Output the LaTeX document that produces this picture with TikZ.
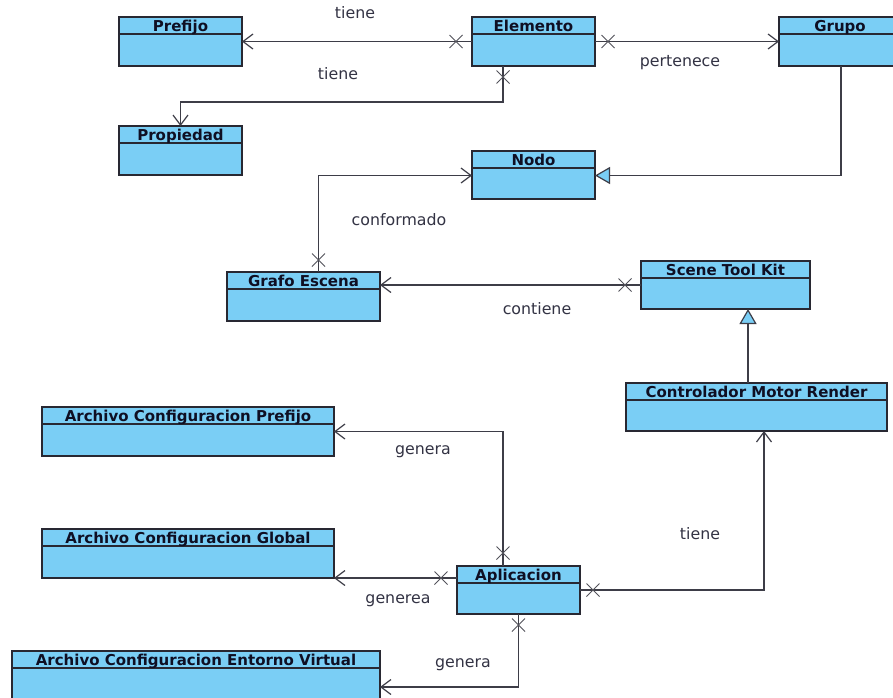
\documentclass[tikz,border=0pt]{standalone}
\usepackage{fontspec}
\setmainfont{DejaVu Sans}
\usetikzlibrary{arrows.meta,shapes.misc,calc}
\definecolor{clsfill}{RGB}{122,206,245}
\definecolor{clsline}{RGB}{40,40,50}
\definecolor{txt}{RGB}{15,15,35}
\newcommand\umlclass[6]{%
  \node[cls, minimum width={(#4-#2)*1pt}, minimum height={(#5-#3)*1pt}] (#1) at ({(#2+#4)/2},{(#3+#5)/2}) {};
  \draw[draw=clsline, line width=1.2pt] ([yshift=-17pt]#1.north west) -- ([yshift=-17pt]#1.north east);
  \node[ttl] (#1t) at ([yshift=-8.8pt]#1.north) {#6};
}
\begin{document}
\begin{tikzpicture}[x=1pt,y=-1pt,
  cls/.style={draw=clsline, fill=clsfill, line width=1.5pt, rectangle, inner sep=0pt, outer sep=0pt},
  ttl/.style={font=\fontsize{15}{16}\selectfont\bfseries, text=txt, inner sep=0pt, text height=11pt, text depth=0pt},
  lbl/.style={font=\fontsize{15.8}{16}\selectfont, text=txt!85, inner sep=0pt, text height=11pt, text depth=0pt},
  assoc/.style={draw=clsline!90, line width=1.2pt, -{Straight Barb[length=10pt,width=15pt,line width=1.2pt]}},
  gen/.style={draw=clsline!90, line width=1.2pt, -{Triangle[length=15pt,width=17pt,fill=clsfill,line width=1.2pt]}},
  xmk/.style={cross out, draw=clsline!80, line width=1pt, minimum size=12pt, inner sep=0pt}
]
\useasboundingbox (0,0) rectangle (893,697);
\fill[white] (0,0) rectangle (893,697);

\umlclass{pref}{119}{17}{242}{66}{Prefijo}
\umlclass{elem}{472}{17}{595}{66}{Elemento}
\umlclass{grupo}{779}{17}{901}{66}{Grupo}
\umlclass{prop}{119}{126}{242}{175}{Propiedad}
\umlclass{nodo}{472}{151}{595}{199}{Nodo}
\umlclass{grafo}{227}{272}{380}{321}{Grafo Escena}
\umlclass{stk}{641}{261}{810}{309}{Scene Tool Kit}
\umlclass{ctrl}{626}{383}{887}{431}{Controlador Motor Render}
\umlclass{acp}{42}{407}{334}{456}{Archivo Configuracion Prefijo}
\umlclass{acg}{42}{529}{334}{578}{Archivo Configuracion Global}
\umlclass{apl}{457}{566}{580}{614}{Aplicacion}
\umlclass{acev}{12}{651}{380}{702}{Archivo Configuracion Entorno Virtual}

% Elemento -> Prefijo
\draw[assoc] (elem.west) -- (pref.east);
\node[xmk] (x1) at ([xshift=-16pt]elem.west) {};
\node[lbl] (l1) at (355,13) {tiene};

% Elemento -> Propiedad
\coordinate (b2) at (503,102);
\draw[assoc] (elem.south -| b2) -- (b2) -| (prop.north);
\node[xmk] (x2) at ([yshift=-11pt]elem.south -| b2) {};
\node[lbl] (l2) at (338,74) {tiene};

% Elemento -> Grupo
\draw[assoc] (elem.east) -- (grupo.west);
\node[xmk] (x3) at ([xshift=13pt]elem.east) {};
\node[lbl] (l3) at (680,61) {pertenece};

% Grupo -> Nodo (generalization)
\coordinate (b4) at (841,175.5);
\draw[gen] (grupo.south -| b4) -- (b4) -- (nodo.east |- b4);

% Grafo Escena -> Nodo
\coordinate (b5) at (318.5,175.5);
\draw[assoc] (grafo.north -| b5) -- (b5) -- (nodo.west |- b5);
\node[xmk] (x5) at ([yshift=12pt]grafo.north -| b5) {};
\node[lbl] (l5) at (399,220) {conformado};

% Scene Tool Kit -> Grafo Escena
\draw[assoc] (stk.west) -- (grafo.east |- stk.west);
\node[xmk] (x6) at ([xshift=-16pt]stk.west) {};
\node[lbl] (l6) at (537,309) {contiene};

% Controlador -> Scene Tool Kit (generalization)
\coordinate (b7) at (748,350);
\draw[gen] (ctrl.north -| b7) -- (stk.south -| b7);

% Aplicacion -> Archivo Configuracion Prefijo
\coordinate (b8) at (503,431.5);
\draw[assoc] (apl.north -| b8) -- (b8) -- (acp.east |- b8);
\node[xmk] (x8) at ([yshift=13pt]apl.north -| b8) {};
\node[lbl] (l8) at (423,449) {genera};

% Aplicacion -> Archivo Configuracion Global
\draw[assoc] (apl.west |- acg.south) -- (acg.south east);
\node[xmk] (x9) at ([xshift=-16pt]apl.west |- acg.south) {};
\node[lbl] (l9) at (398,598) {generea};

% Aplicacion -> Controlador
\coordinate (b10) at (764,590);
\draw[assoc] (apl.east |- b10) -- (b10) -- (ctrl.south -| b10);
\node[xmk] (x10) at ([xshift=13pt]apl.east |- b10) {};
\node[lbl] (l10) at (700,534) {tiene};

% Aplicacion -> Archivo Configuracion Entorno Virtual
\coordinate (b11) at (518.5,687);
\draw[assoc] (apl.south -| b11) -- (b11) -- (acev.east |- b11);
\node[xmk] (x11) at ([yshift=-11pt]apl.south -| b11) {};
\node[lbl] (l11) at (463,662) {genera};
\end{tikzpicture}
\end{document}
